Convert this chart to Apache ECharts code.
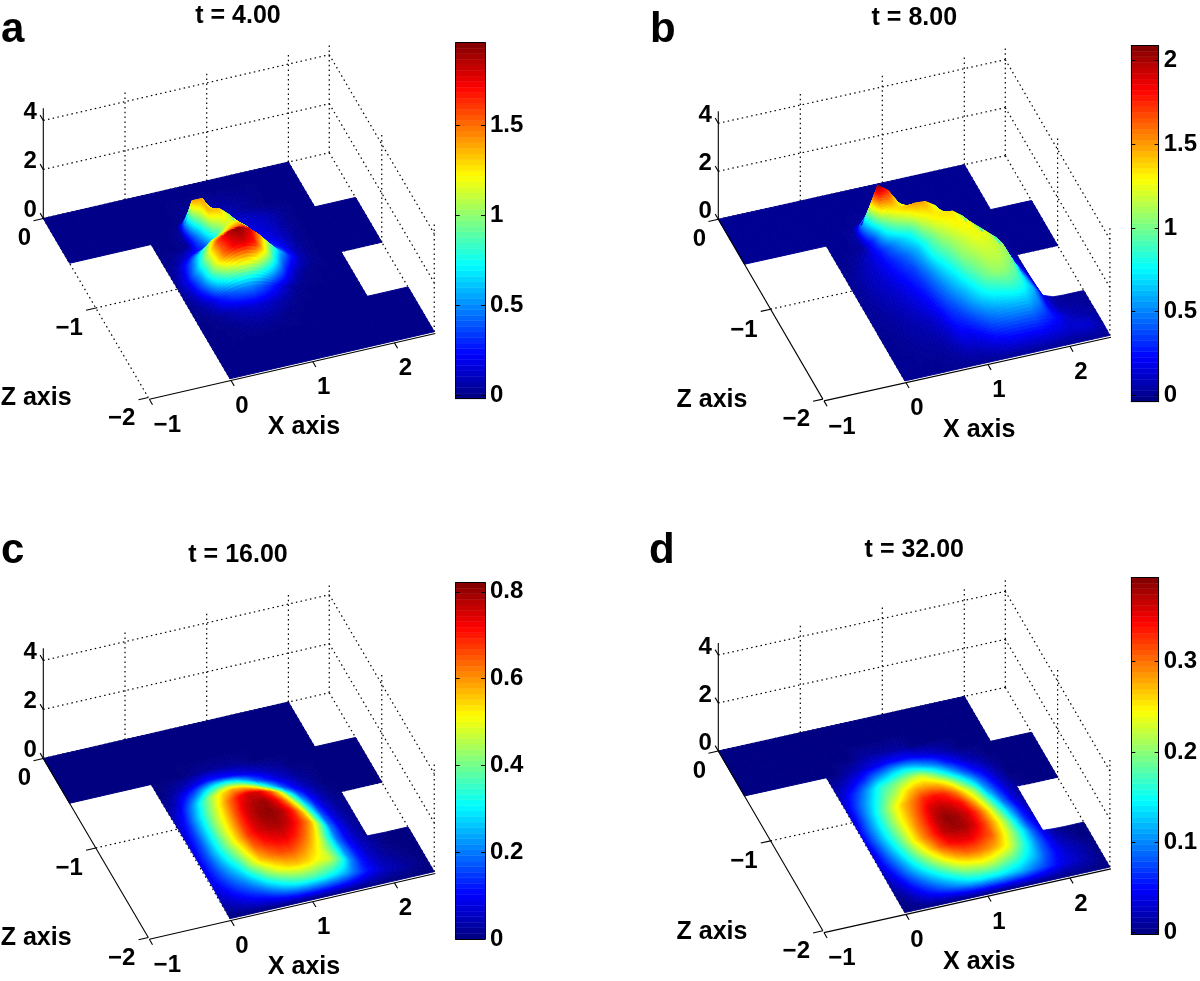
<!DOCTYPE html>
<html><head><meta charset="utf-8">
<style>html,body{margin:0;padding:0;background:#fff}#c{width:1200px;height:981px}</style>
<script src="https://cdn.jsdelivr.net/npm/echarts@6/dist/echarts.min.js"></script>
</head><body><div id="c"></div>
<script>
// Grid nodes: X = -1 .. 2.5 and Z = 0 .. -2, both in steps of 0.125.
const xNodes=[-1,-.875,-.75,-.625,-.5,-.375,-.25,-.125,0,.125,.25,.375,.5,.625,.75,.875,1,1.125,1.25,1.375,1.5,1.625,1.75,1.875,2,2.125,2.25,2.375,2.5];
const zNodes=[0,-.125,-.25,-.375,-.5,-.625,-.75,-.875,-1,-1.125,-1.25,-1.375,-1.5,-1.625,-1.75,-1.875,-2];
// Domain extent (first / last X node index present) on each Z row.
const rowFirst=[0,0,0,0,0,8,8,8,8,8,8,8,8,8,8,8,8];
const rowLast=[24,24,24,24,28,28,28,28,28,24,24,24,28,28,28,28,28];
const xTicks=[-1,0,1,2], zTicks=[0,-1,-2], yTicks=[0,2,4];
// Surface values per Z row, listed from X = 0 upward; cells not listed read as 0.
const surfaceA=[[],[],
[0,0,0,0,.01,.02,.03,.04,.04,.03,.02,.01],
[0,0,0,0,.02,.03,.05,.08,.08,.06,.03,.01],
[0,0,0,.03,1.4,1.4,.7,.25,.15,.13,.12,.1,.06,.02],
[0,0,0,.03,.6,1.35,1.35,1,.35,.17,.15,.12,.07,.02],
[0,.03,.12,.25,.3,.75,1.1,1.22,.9,.3,.2,.15,.08,.02],
[.01,.12,.4,.75,1.15,1.3,1.45,1.5,1.15,.6,.32,.22,.09,.02],
[.02,.2,.6,1.1,1.6,1.85,1.95,1.8,1.45,1,.6,.3,.1,.02],
[.01,.12,.45,1.05,1.5,1.72,1.78,1.65,1.2,.7,.3,.08,.01],
[0,.03,.12,.3,.42,.48,.5,.42,.3,.15,.04],
[0,0,.02,.06,.1,.13,.14,.12,.07,.03],
[0,0,0,.01,.03,.04,.05,.03,.01],[],[],[],[]];
const surfaceB=[[],[],[],
[0,0,0,0,.02,.1,.1,.06,.02],
[0,0,0,.05,1,2.05,1.75,1.15,.75,.35,.08],
[0,0,0,.02,.35,.95,1.25,1.42,1.5,1.47,1.2,.6,.1,.01],
[0,0,.04,.13,.25,.45,.65,.82,1.15,1.3,1.35,1.35,1.05,.25,.02],
[0,.02,.08,.13,.22,.32,.45,.62,.88,1.1,1.22,1.3,1.3,.95,.15],
[0,.03,.08,.12,.19,.27,.36,.55,.82,.98,1.1,1.2,1.27,1.25,.9,.1],
[0,.03,.07,.1,.15,.22,.31,.47,.68,.85,1.05,1.13,1.2,1.2,1.1,.3,.02],
[0,.02,.05,.08,.12,.18,.27,.42,.58,.75,.94,1.05,1.14,1.15,1.08,.45,.05],
[0,.01,.03,.06,.09,.14,.22,.36,.5,.64,.8,.97,1.07,1.07,.95,.55,.1],
[0,0,.02,.04,.06,.09,.17,.3,.4,.54,.68,.78,.82,.88,.82,.62,.18,.02],
[0,0,.01,.03,.04,.06,.12,.24,.3,.4,.5,.56,.6,.62,.62,.5,.18,.05,.03,.02],
[0,0,0,.01,.02,.03,.08,.17,.18,.26,.34,.38,.4,.4,.4,.33,.25,.12,.07,.05,.02],
[0,0,0,0,0,.01,.03,.07,.08,.12,.17,.2,.2,.2,.2,.18,.15,.12,.14,.12,.03],
[]];
const surfaceC=[[],[],[],[],
[0,0,0,0,.01,.02,.02,.02,.02,.01],
[0,.01,.03,.06,.09,.12,.12,.11,.09,.07,.05,.03,.02],
[.01,.04,.11,.18,.27,.33,.35,.33,.27,.19,.13,.08,.05,.02,.01],
[.03,.09,.2,.33,.45,.53,.58,.56,.5,.4,.29,.18,.1,.05,.02],
[.05,.13,.26,.39,.5,.62,.71,.76,.74,.66,.53,.36,.2,.1,.04,.01],
[.06,.15,.28,.42,.53,.65,.75,.79,.8,.74,.63,.47,.29,.14,.06,.02,.01],
[.07,.16,.29,.43,.55,.67,.76,.8,.81,.78,.7,.56,.36,.18,.08,.03,.01],
[.08,.17,.29,.42,.55,.68,.75,.78,.79,.76,.69,.6,.42,.21,.1,.04,.01],
[.08,.16,.26,.37,.5,.64,.7,.73,.74,.7,.63,.53,.36,.2,.1,.05,.02,.01],
[.08,.14,.21,.29,.44,.56,.62,.66,.66,.62,.56,.47,.36,.22,.12,.06,.03,.01],
[.06,.1,.15,.2,.28,.4,.49,.54,.56,.54,.5,.48,.38,.23,.13,.07,.04,.02,.01],
[.03,.05,.08,.11,.14,.2,.27,.33,.36,.36,.34,.3,.25,.18,.12,.08,.05,.04,.02,.01],
[]];
const surfaceD=[[],[],[],
[0,0,0,0,.01,.01,.01,.01,.01],
[0,0,.01,.02,.03,.04,.05,.05,.05,.04,.03,.02,.01],
[.01,.02,.04,.06,.09,.11,.13,.14,.13,.11,.09,.06,.04,.02,.01],
[.02,.05,.08,.12,.16,.18,.2,.22,.23,.2,.16,.12,.08,.05,.03,.01],
[.03,.07,.11,.15,.19,.22,.26,.28,.28,.27,.24,.19,.14,.09,.05,.02],
[.03,.08,.13,.18,.23,.27,.3,.33,.34,.33,.3,.25,.2,.12,.07,.03,.01],
[.04,.09,.14,.19,.24,.28,.32,.36,.37,.36,.34,.29,.23,.16,.09,.04,.01],
[.04,.09,.14,.19,.24,.29,.33,.37,.39,.38,.36,.32,.26,.19,.12,.06,.02],
[.03,.08,.13,.18,.24,.29,.33,.37,.38,.38,.36,.32,.27,.21,.14,.07,.03],
[.03,.07,.11,.16,.21,.26,.31,.34,.35,.35,.33,.31,.26,.21,.15,.09,.04,.01],
[.02,.05,.09,.13,.17,.21,.25,.28,.3,.3,.29,.27,.24,.19,.14,.09,.05,.02,.01],
[.01,.03,.06,.09,.12,.15,.18,.21,.22,.23,.22,.2,.18,.15,.12,.08,.05,.03,.02,.01],
[0,.01,.03,.05,.07,.09,.11,.13,.14,.14,.14,.13,.12,.1,.08,.06,.04,.03,.02,.01],
[]];

const FONT='"Liberation Sans", Arial, sans-serif';
const panels=[
 {letter:'a',title:'t = 4.00',titleAt:[238,14],letterAt:[1,43],values:surfaceA,O:[43.3,218.5],vx:[81.7,-18.8],vz:[52.5,89.5],vy:24.5,solidLeft:false,
  bar:{left:455.7,top:42.7,width:29.3,height:356,min:-.018,max:1.96,ticks:[0,.5,1,1.5]},zLabel:[-112.2,.8],xLabel:[155.7,29.2]},
 {letter:'b',title:'t = 8.00',titleAt:[914.3,16],letterAt:[650,43],values:surfaceB,O:[718.3,219.3],vx:[82,-18.2],vz:[52.3,89.9],vy:24,solidLeft:true,
  bar:{left:1131.3,top:45.7,width:29.4,height:356,min:-.04,max:2.09,ticks:[0,.5,1,1.5,2]},zLabel:[-110.9,.9],xLabel:[156.3,30.9]},
 {letter:'c',title:'t = 16.00',titleAt:[238,553],letterAt:[1,564],values:surfaceC,O:[43.3,758.5],vx:[81.7,-18.8],vz:[52.5,89.5],vy:24.5,solidLeft:true,
  bar:{left:455.7,top:582.7,width:29.3,height:356.3,min:0,max:.821,ticks:[0,.2,.4,.6,.8]},zLabel:[-112.2,.8],xLabel:[155.7,29.2]},
 {letter:'d',title:'t = 32.00',titleAt:[914.3,548],letterAt:[649,564],values:surfaceD,O:[718.3,751],vx:[82,-18.2],vz:[52.3,89.9],vy:24,solidLeft:true,
  bar:{left:1131.3,top:577.7,width:29.4,height:356.3,min:-.0015,max:.393,ticks:[0,.1,.2,.3]},zLabel:[-110.9,.9],xLabel:[156.3,30.9]}
];
const cl=v=>Math.max(0,Math.min(1,v));
function jet(t){t=cl(t);const r=cl(1.5-Math.abs(4*t-3)),g=cl(1.5-Math.abs(4*t-2)),b=cl(1.5-Math.abs(4*t-1));
 return 'rgb('+Math.round(r*255)+','+Math.round(g*255)+','+Math.round(b*255)+')';}
const nodeValue=(vals,c,r)=>c<8?0:((vals[r]||[])[c-8]??0);
const inDomain=(c,r)=>c>=rowFirst[r]&&c<=rowLast[r];

const grids=[],xAxes=[],yAxes=[],series=[],titles=[];
const hiddenAxis=(max,extra)=>Object.assign({type:'value',min:0,max,show:false},extra||{});
const SCENE_W=400,SCENE_H=400,LOCAL=[43,217];

panels.forEach(p=>{
 const gi=grids.length, sx=xAxes.length, sy=yAxes.length;
 grids.push({left:p.O[0]-LOCAL[0],top:p.O[1]-LOCAL[1],width:SCENE_W,height:SCENE_H});
 xAxes.push(hiddenAxis(SCENE_W,{gridIndex:gi}));
 yAxes.push(hiddenAxis(SCENE_H,{gridIndex:gi,inverse:true}));
 const proj=(api,X,Y,Z)=>api.coord([LOCAL[0]+p.vx[0]*(X+1)+p.vz[0]*(-Z),LOCAL[1]+p.vx[1]*(X+1)+p.vz[1]*(-Z)-p.vy*Y]);
 const base={type:'custom',coordinateSystem:'cartesian2d',xAxisIndex:sx,yAxisIndex:sy,clip:false,silent:true,animation:false,progressive:0};

 // dotted box behind the surface: [x1,y1,z1,x2,y2,z2]
 const dotted=[];
 [0,2,4].forEach(y=>{dotted.push([-1,y,0,2.5,y,0]);dotted.push([2.5,y,0,2.5,y,-2]);});
 [0,1,2,2.5].forEach(x=>dotted.push([x,0,0,x,4.5,0]));
 [-1,-2].forEach(z=>dotted.push([2.5,0,z,2.5,4.5,z]));
 [0,1,2].forEach(x=>dotted.push([x,0,0,x,0,-2]));
 dotted.push([-1,0,-1,2.5,0,-1]);
 if(!p.solidLeft)dotted.push([-1,0,0,-1,0,-2]);
 series.push(Object.assign({},base,{name:'grid '+p.letter,z:1,data:dotted,renderItem:(ps,api)=>{const d=dotted[ps.dataIndex];
  const a=proj(api,d[0],d[1],d[2]),b=proj(api,d[3],d[4],d[5]);
  return {type:'line',shape:{x1:a[0],y1:a[1],x2:b[0],y2:b[1]},style:{stroke:'#000',lineWidth:1.2,lineDash:[1.5,3.3],fill:null}};}}));

 // surface cells, painted from the back row to the front row
 const cells=[];
 for(let r=0;r<zNodes.length-1;r++)for(let c=0;c<xNodes.length-1;c++)
  if(inDomain(c,r)&&inDomain(c+1,r)&&inDomain(c,r+1)&&inDomain(c+1,r+1))cells.push([c,r]);
 const cmin=p.bar.min,cmax=p.bar.max;
 series.push(Object.assign({},base,{name:'surface '+p.letter,z:2,data:cells,renderItem:(ps,api)=>{
  const [c,r]=cells[ps.dataIndex];
  const v00=nodeValue(p.values,c,r),v10=nodeValue(p.values,c+1,r),v01=nodeValue(p.values,c,r+1),v11=nodeValue(p.values,c+1,r+1);
  const hi=Math.max(v00,v10,v01,v11),lo=Math.min(v00,v10,v01,v11);
  const S=hi>0?Math.min(12,Math.max(4,Math.ceil((hi-lo)/(cmax-cmin)*48))):1,kids=[];
  const at=(i,j)=>{const u=i/S,w=j/S;return (1-u)*(1-w)*v00+u*(1-w)*v10+(1-u)*w*v01+u*w*v11;};
  const dx=xNodes[c+1]-xNodes[c],dz=zNodes[r+1]-zNodes[r];
  const pt=(i,j)=>proj(api,xNodes[c]+dx*i/S,at(i,j),zNodes[r]+dz*j/S);
  for(let j=0;j<S;j++)for(let i=0;i<S;i++){
   const col=jet(((at(i,j)+at(i+1,j)+at(i,j+1)+at(i+1,j+1))/4-cmin)/(cmax-cmin));
   kids.push({type:'polygon',shape:{points:[pt(i,j),pt(i+1,j),pt(i+1,j+1),pt(i,j+1)]},style:{fill:col,stroke:col,lineWidth:S>1?.8:1}});
  }
  return {type:'group',children:kids};}}));

 // solid axes and tick marks
 const solid=[[-1,0,0,-1,4.5,0],[-1,0,-2.02,2.5,0,-2.02]];
 if(p.solidLeft)solid.push([-1,0,0,-1,0,-2]);
 yTicks.forEach(y=>solid.push([-1,y,0,-1,y,.06]));
 xTicks.forEach(x=>solid.push([x,0,-2.02,x,0,-2.08]));
 zTicks.forEach(z=>solid.push([-1,0,z,-1.12,0,z]));
 series.push(Object.assign({},base,{name:'axes '+p.letter,z:3,data:solid,renderItem:(ps,api)=>{const d=solid[ps.dataIndex];
  const a=proj(api,d[0],d[1],d[2]),b=proj(api,d[3],d[4],d[5]);
  return {type:'line',shape:{x1:a[0],y1:a[1],x2:b[0],y2:b[1]},style:{stroke:'#000',lineWidth:1.1,fill:null}};}}));

 // tick labels and axis names
 const fmt=v=>(v<0?'\u2212'+(-v):String(v));
 const labels=[];
 yTicks.forEach(y=>labels.push({t:String(y),w:[-1,y,0],o:[-13.2,-8],s:24}));
 xTicks.forEach(x=>labels.push({t:fmt(x),w:[x,0,-2],o:[x<0?19:12,x<0?28:27.7],s:24}));
 zTicks.forEach(z=>labels.push({t:fmt(z),w:[-1,0,z],o:[z<0?-26.6:-19,z<0?20.7:20.3],s:24}));
 labels.push({t:'Z axis',w:[-1,0,-2],o:p.zLabel,s:25});
 labels.push({t:'X axis',w:[-1,0,-2],o:p.xLabel,s:25});
 series.push(Object.assign({},base,{name:'labels '+p.letter,z:4,data:labels.map((l,i)=>i),renderItem:(ps,api)=>{const l=labels[ps.dataIndex];
  const a=proj(api,l.w[0],l.w[1],l.w[2]);
  return {type:'text',x:a[0]+l.o[0],y:a[1]+l.o[1],style:{text:l.t,fill:'#000',font:'bold '+l.s+'px '+FONT,align:'center',verticalAlign:'middle'}};}}));

 titles.push({text:p.title,left:p.titleAt[0],top:p.titleAt[1]-10,textAlign:'center',padding:0,textStyle:{fontFamily:FONT,fontWeight:'bold',fontSize:25,color:'#000'}});
 titles.push({text:p.letter,left:p.letterAt[0],top:p.letterAt[1]-34,padding:0,textStyle:{fontFamily:FONT,fontWeight:'bold',fontSize:42,color:'#000'}});

 // colour bar
 const b=p.bar,bi=grids.length;
 grids.push({left:b.left,top:b.top,width:b.width,height:b.height});
 const line={show:true,onZero:false,lineStyle:{color:'#000',width:1}};
 const tick={show:true,inside:true,length:4,customValues:b.ticks,lineStyle:{color:'#000',width:1}};
 const xi=xAxes.length,yi=yAxes.length;
 const plainX=pos=>({type:'value',gridIndex:bi,min:0,max:1,position:pos,axisLine:line,axisTick:{show:false},axisLabel:{show:false},splitLine:{show:false}});
 xAxes.push(plainX('bottom'));
 xAxes.push(plainX('top'));
 yAxes.push({type:'value',gridIndex:bi,min:b.min,max:b.max,position:'right',axisLine:line,axisTick:tick,splitLine:{show:false},
  axisLabel:{show:true,customValues:b.ticks,margin:5,formatter:v=>String(v),fontFamily:FONT,fontWeight:'bold',fontSize:24,color:'#000'}});
 yAxes.push({type:'value',gridIndex:bi,min:b.min,max:b.max,position:'left',axisLine:line,axisTick:tick,axisLabel:{show:false},splitLine:{show:false}});
 const LEVELS=64,levels=[];for(let i=0;i<LEVELS;i++)levels.push(i);
 series.push({type:'custom',coordinateSystem:'cartesian2d',xAxisIndex:xi,yAxisIndex:yi,silent:true,animation:false,progressive:0,z:-1,name:'colorbar '+p.letter,data:levels,
  renderItem:(ps,api)=>{const i=ps.dataIndex,y0=b.min+(b.max-b.min)*i/LEVELS,y1=b.min+(b.max-b.min)*(i+1)/LEVELS;
   const a=api.coord([0,y0]),c=api.coord([1,y1]);
   const col=jet((i+.5)/LEVELS);
   return {type:'rect',shape:{x:a[0],y:c[1],width:c[0]-a[0],height:a[1]-c[1]},style:{fill:col,stroke:col,lineWidth:.5}};}});
});
const chart=echarts.init(document.getElementById('c'),null,{renderer:'canvas',width:1200,height:981});
chart.setOption({animation:false,backgroundColor:'#fff',title:titles,grid:grids,xAxis:xAxes,yAxis:yAxes,series});
</script></body></html>
